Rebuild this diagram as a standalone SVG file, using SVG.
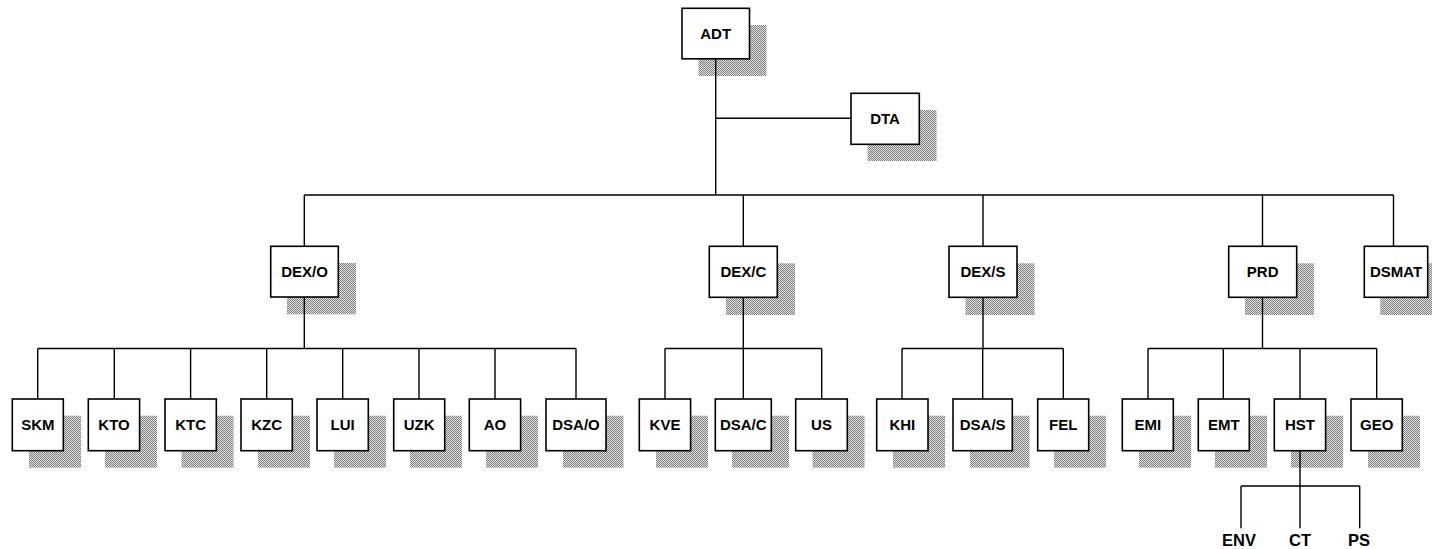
<svg xmlns="http://www.w3.org/2000/svg" width="1432" height="549" viewBox="0 0 1432 549">
  <defs>
    <!-- fine stipple used for drop shadows -->
    <pattern id="stipple" width="2" height="2" patternUnits="userSpaceOnUse">
      <rect width="2" height="2" fill="#e6e6e6"/>
      <rect x="0" y="0" width="1" height="1" fill="#7a7a7a"/>
      <rect x="1" y="1" width="1" height="1" fill="#7a7a7a"/>
    </pattern>
    <style>
      .shadow { fill: url(#stipple); stroke: none; }
      .box { fill: #fff; stroke: #000; stroke-width: 1.6; }
      .lbl { font-family: "Liberation Sans", Arial, sans-serif; font-weight: bold; font-size: 15px; text-anchor: middle; fill: #000; }
      .lbl2 { font-family: "Liberation Sans", Arial, sans-serif; font-weight: bold; font-size: 16.5px; text-anchor: middle; fill: #000; }
      .wire { fill: none; stroke: #000; stroke-width: 1.4; }
    </style>
  </defs>
  <rect width="1432" height="549" fill="#fff"/>

  <!-- top level -->
  <g id="ADT"><rect class="shadow" x="698.5" y="25" width="68" height="51"/><rect class="box" x="682" y="8.3" width="67.5" height="50.5"/><text class="lbl" x="715.7" y="39">ADT</text></g>
  <g id="DTA"><rect class="shadow" x="867.5" y="110" width="69" height="51"/><rect class="box" x="851" y="93.3" width="68.3" height="51"/><text class="lbl" x="885" y="124">DTA</text></g>

  <!-- second level -->
  <g id="DEX-O"><rect class="shadow" x="287" y="263" width="69" height="51.3"/><rect class="box" x="270.7" y="246.3" width="67.6" height="50.7"/><text class="lbl" x="304.5" y="277">DEX/O</text></g>
  <g id="DEX-C"><rect class="shadow" x="726" y="263.3" width="69" height="51.7"/><rect class="box" x="709.3" y="246.3" width="68" height="51"/><text class="lbl" x="743.3" y="277">DEX/C</text></g>
  <g id="DEX-S"><rect class="shadow" x="965.5" y="263.3" width="69" height="51.7"/><rect class="box" x="949" y="246.3" width="68" height="51"/><text class="lbl" x="983" y="277">DEX/S</text></g>
  <g id="PRD"><rect class="shadow" x="1245" y="263.3" width="69" height="51.7"/><rect class="box" x="1228.7" y="246.3" width="68" height="51"/><text class="lbl" x="1262.7" y="277">PRD</text></g>
  <g id="DSMAT"><rect class="shadow" x="1380.3" y="263.3" width="64" height="51.7"/><rect class="box" x="1364.3" y="246.3" width="63.4" height="51"/><text class="lbl" x="1396" y="277">DSMAT</text></g>

  <!-- third level -->
  <g id="SKM"><rect class="shadow" x="29" y="415.7" width="52" height="52"/><rect class="box" x="12.3" y="399" width="51" height="51.7"/><text class="lbl" x="37.8" y="430">SKM</text></g>
  <g id="KTO"><rect class="shadow" x="105" y="415.7" width="52" height="52"/><rect class="box" x="88.3" y="399" width="51.3" height="51.7"/><text class="lbl" x="114" y="430">KTO</text></g>
  <g id="KTC"><rect class="shadow" x="181.5" y="415.7" width="52" height="52"/><rect class="box" x="165" y="399" width="51.3" height="51.7"/><text class="lbl" x="190.6" y="430">KTC</text></g>
  <g id="KZC"><rect class="shadow" x="258" y="415.7" width="52" height="52"/><rect class="box" x="241" y="399" width="51.3" height="51.7"/><text class="lbl" x="266.7" y="430">KZC</text></g>
  <g id="LUI"><rect class="shadow" x="334" y="415.7" width="52" height="52"/><rect class="box" x="317" y="399" width="51.3" height="51.7"/><text class="lbl" x="342.7" y="430">LUI</text></g>
  <g id="UZK"><rect class="shadow" x="410" y="415.7" width="52" height="52"/><rect class="box" x="393.7" y="399" width="51" height="51.7"/><text class="lbl" x="419.2" y="430">UZK</text></g>
  <g id="AO"><rect class="shadow" x="486" y="415.7" width="52" height="52"/><rect class="box" x="469.3" y="399" width="51.3" height="51.7"/><text class="lbl" x="495" y="430">AO</text></g>
  <g id="DSA-O"><rect class="shadow" x="563" y="415.7" width="60.5" height="52"/><rect class="box" x="546" y="399" width="60" height="51.7"/><text class="lbl" x="576" y="430">DSA/O</text></g>
  <g id="KVE"><rect class="shadow" x="656" y="415.7" width="52" height="52"/><rect class="box" x="639.3" y="399" width="51.3" height="51.7"/><text class="lbl" x="665" y="430">KVE</text></g>
  <g id="DSA-C"><rect class="shadow" x="732" y="415.7" width="57" height="52"/><rect class="box" x="715.3" y="399" width="56" height="51.7"/><text class="lbl" x="743.3" y="430">DSA/C</text></g>
  <g id="US"><rect class="shadow" x="812.5" y="415.7" width="52" height="52"/><rect class="box" x="795.7" y="399" width="51.6" height="51.7"/><text class="lbl" x="821.5" y="430">US</text></g>
  <g id="KHI"><rect class="shadow" x="893" y="415.7" width="52" height="52"/><rect class="box" x="876.7" y="399" width="51.3" height="51.7"/><text class="lbl" x="902.3" y="430">KHI</text></g>
  <g id="DSA-S"><rect class="shadow" x="970" y="415.7" width="59.5" height="52"/><rect class="box" x="953" y="399" width="59.3" height="51.7"/><text class="lbl" x="982.7" y="430">DSA/S</text></g>
  <g id="FEL"><rect class="shadow" x="1054" y="415.7" width="52" height="52"/><rect class="box" x="1037.7" y="399" width="51" height="51.7"/><text class="lbl" x="1063.2" y="430">FEL</text></g>
  <g id="EMI"><rect class="shadow" x="1139" y="415.7" width="52" height="52"/><rect class="box" x="1122.3" y="399" width="51" height="51.7"/><text class="lbl" x="1147.8" y="430">EMI</text></g>
  <g id="EMT"><rect class="shadow" x="1215" y="415.7" width="52" height="52"/><rect class="box" x="1198.3" y="399" width="51" height="51.7"/><text class="lbl" x="1223.8" y="430">EMT</text></g>
  <g id="HST"><rect class="shadow" x="1291" y="415.7" width="52" height="52"/><rect class="box" x="1274.3" y="399" width="51.3" height="51.7"/><text class="lbl" x="1300" y="430">HST</text></g>
  <g id="GEO"><rect class="shadow" x="1368" y="415.7" width="52" height="52"/><rect class="box" x="1351" y="399" width="51.3" height="51.7"/><text class="lbl" x="1376.7" y="430">GEO</text></g>

  <!-- fourth level: bare labels -->
  <g id="ENV"><text class="lbl2" x="1239" y="546">ENV</text></g>
  <g id="CT"><text class="lbl2" x="1300" y="546">CT</text></g>
  <g id="PS"><text class="lbl2" x="1359" y="546">PS</text></g>

  <g id="connectors" class="wire">
    <!-- ADT trunk and DTA branch -->
    <path class="wire" d="M715.7 58.8 V195 M715.7 118.3 H851"/>
    <!-- main bus and drops -->
    <path class="wire" d="M304.3 195 H1393.5 M304.3 195 V246.3 M743.3 195 V246.3 M983 195 V246.3 M1262.5 195 V246.3 M1393.5 195 V246.3"/>
    <!-- DEX/O group -->
    <path class="wire" d="M304.3 297 V348.5 M37.7 348.5 H576 M37.7 348.5 V399 M114.3 348.5 V399 M190.6 348.5 V399 M266.7 348.5 V399 M342.7 348.5 V399 M419 348.5 V399 M495 348.5 V399 M576 348.5 V399"/>
    <!-- DEX/C group -->
    <path class="wire" d="M743.3 297.3 V348.5 M665 348.5 H821.7 M665 348.5 V399 M743.3 348.5 V399 M821.7 348.5 V399"/>
    <!-- DEX/S group -->
    <path class="wire" d="M983 297.3 V348.5 M902 348.5 H1063.3 M902 348.5 V399 M982.7 348.5 V399 M1063.3 348.5 V399"/>
    <!-- PRD group -->
    <path class="wire" d="M1262.5 297.3 V348.5 M1148 348.5 H1376.7 M1148 348.5 V399 M1223.3 348.5 V399 M1300 348.5 V399 M1376.7 348.5 V399"/>
    <!-- HST group -->
    <path class="wire" d="M1300 450.7 V486 M1241 486 H1359.7 M1241 486 V528.3 M1300 486 V528.3 M1359.7 486 V528.3"/>
  </g>
</svg>
